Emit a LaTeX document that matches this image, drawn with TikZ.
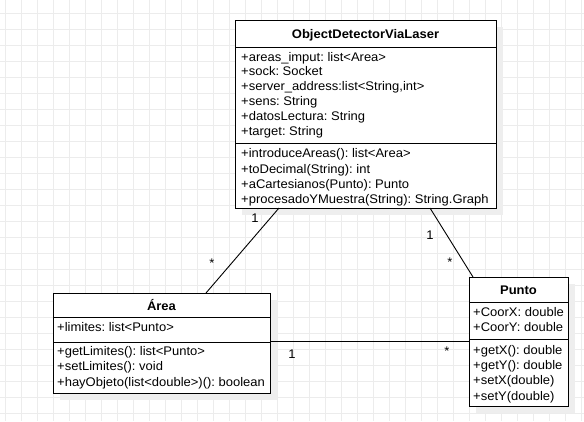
\documentclass[tikz,border=0pt]{standalone}
\usepackage{fontspec}
\setmainfont{Liberation Sans}[FakeStretch=1.04]
\usetikzlibrary{calc}
\frenchspacing
\definecolor{gridc}{RGB}{236,236,236}
\definecolor{shadowc}{RGB}{238,238,238}
\tikzset{
  classbox/.style={draw=black, line width=1pt, fill=white, anchor=north west, inner sep=0pt, outer sep=0pt},
  txt/.style={anchor=base west, inner sep=0pt, font=\fontsize{12.5}{14}\selectfont},
  ttl/.style={anchor=base, inner sep=0pt, font=\fontsize{12.5}{14}\selectfont\bfseries},
  mult/.style={anchor=center, inner sep=0pt, font=\fontsize{12.5}{14}\selectfont},
  sepline/.style={draw=black, line width=1pt},
  assoc/.style={draw=black, line width=0.9pt},
}
\begin{document}
\begin{tikzpicture}[x=1pt,y=-1pt]
\useasboundingbox (0,0) rectangle (584,421);
\fill[white] (0,0) rectangle (584,421);
% grid
\foreach \gx in {5,21,...,584} \draw[gridc, line width=1pt] (\gx,0) -- (\gx,421);
\foreach \gy in {13,29,...,421} \draw[gridc, line width=1pt] (0,\gy) -- (584,\gy);
% shadows
\fill[shadowc] (242,27) rectangle (503,215);
\fill[shadowc] (60,300) rectangle (277,400);
\fill[shadowc] (476,284) rectangle (575,413);
% ObjectDetectorViaLaser
\node[classbox, minimum width=261pt, minimum height=188pt] (odl) at (235,20) {};
\draw[sepline] (235,47) -- (496,47);
\draw[sepline] (235,143) -- (496,143);
\node[ttl] (odlt) at (365.5,38.5) {ObjectDetectorViaLaser};
\node[txt] (o1) at (241,61) {+areas\_imput: list<Area>};
\node[txt] (o2) at (241,75.8) {+sock: Socket};
\node[txt] (o3) at (241,90.6) {+server\_address:list<String,int>};
\node[txt] (o4) at (241,105.4) {+sens: String};
\node[txt] (o5) at (241,120.2) {+datosLectura: String};
\node[txt] (o6) at (241,135) {+target: String};
\node[txt] (o7) at (241,157.8) {+introduceAreas(): list<Area>};
\node[txt] (o8) at (241,173) {+toDecimal(String): int};
\node[txt] (o9) at (241,188.2) {+aCartesianos(Punto): Punto};
\node[txt] (o10) at (241,203.4) {+procesadoYMuestra(String): String.Graph};
% Area
\node[classbox, minimum width=217pt, minimum height=100pt] (area) at (53,293) {};
\draw[sepline] (53,317) -- (270,317);
\draw[sepline] (53,342) -- (270,342);
\node[ttl] (areat) at (161.5,310) {Área};
\node[txt] (a1) at (57,331.7) {+limites: list<Punto>};
\node[txt] (a2) at (57,355.7) {+getLimites(): list<Punto>};
\node[txt] (a3) at (57,370.8) {+setLimites(): void};
\node[txt] (a4) at (57,386) {+hayObjeto(list<double>)(): boolean};
% Punto
\node[classbox, minimum width=99pt, minimum height=129pt] (punto) at (469,277) {};
\draw[sepline] (469,302) -- (568,302);
\draw[sepline] (469,339) -- (568,339);
\node[ttl] (puntot) at (518.5,294.3) {Punto};
\node[txt] (p1) at (473,316.7) {+CoorX: double};
\node[txt] (p2) at (473,331.7) {+CoorY: double};
\node[txt] (p3) at (473,354.3) {+getX(): double};
\node[txt] (p4) at (473,369.6) {+getY(): double};
\node[txt] (p5) at (473,384.8) {+setX(double)};
\node[txt] (p6) at (473,400) {+setY(double)};
% associations
\draw[assoc] ($(odl.south west)+(44,0)$) -- ($(area.north west)+(153,0)$);
\draw[assoc] ($(odl.south west)+(195,0)$) -- ($(punto.north west)+(4,0)$);
\draw[assoc] ($(area.north east)+(0,48.7)$) -- ($(punto.north west)+(0,64.7)$);
% multiplicities
\node[mult] (m1) at (255,218) {1};
\node[mult] (m2) at (212,263) {*};
\node[mult] (m3) at (430,235) {1};
\node[mult] (m4) at (450,262) {*};
\node[mult] (m5) at (292,354) {1};
\node[mult] (m6) at (447,351) {*};
\end{tikzpicture}
\end{document}
